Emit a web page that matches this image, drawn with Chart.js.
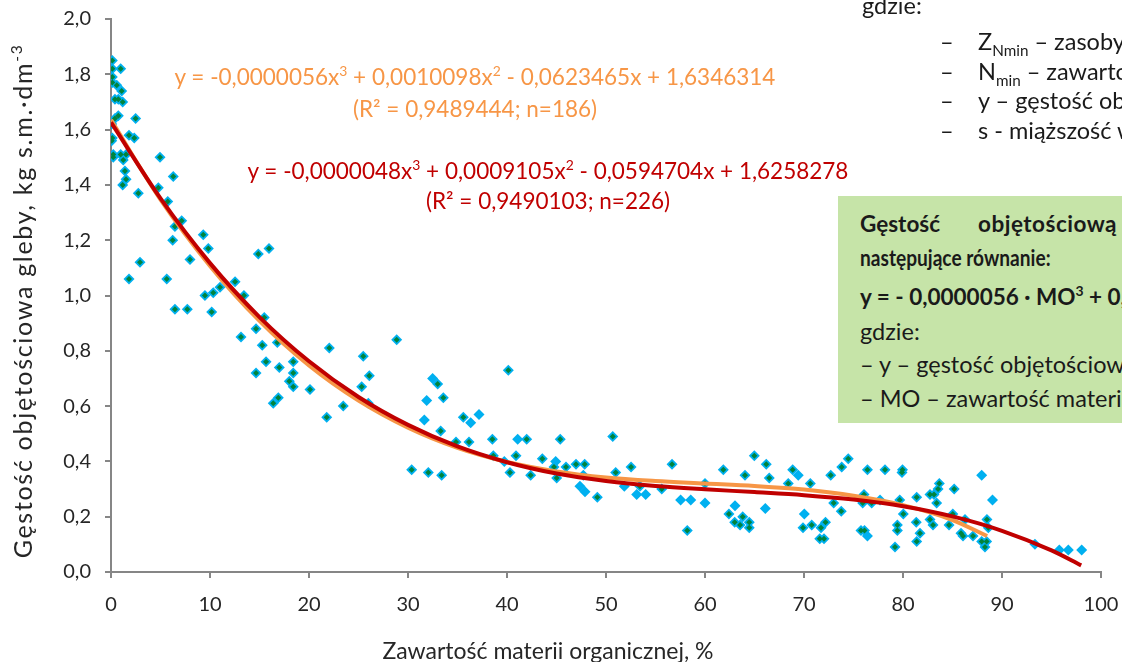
<!DOCTYPE html>
<html><head><meta charset="utf-8">
<script src="https://cdn.jsdelivr.net/npm/chart.js@4.4.1/dist/chart.umd.min.js"></script>
<style>
html,body{margin:0;padding:0;background:#fff;overflow:hidden}
#wrap{position:relative;width:1122px;height:662px;overflow:hidden;font-family:Lato,"Noto Sans",sans-serif;color:#1a1a1a}
canvas{position:absolute;left:0;top:0}
.ann{position:absolute;white-space:nowrap}
.eq{text-align:center;font-size:22.5px}
sup{font-size:0.62em;line-height:0;vertical-align:0.62em}
sub{font-size:0.65em;line-height:0;vertical-align:-0.4em}
#box{position:absolute;left:838px;top:196px;width:320px;height:227px;background:#C6E4A8}
#box div{position:absolute;white-space:nowrap;line-height:34px;font-weight:bold}
#box .n{font-size:23.5px;font-weight:normal}
.lst{font-size:23.5px;line-height:30px}
#xt{position:absolute;left:248px;top:636px;width:600px;text-align:center;font-size:23px;line-height:28px;color:#262626}
#yt{position:absolute;left:-278px;top:287px;width:600px;text-align:center;font-size:25px;line-height:28px;letter-spacing:1.7px;color:#262626;transform:rotate(-90deg);transform-origin:50% 50%}
</style></head><body>
<div id="wrap">
<canvas id="c" width="1122" height="662"></canvas>

<div class="ann eq" style="left:125px;top:61px;width:700px;line-height:32px;color:#F79646">y = -0,0000056x<sup>3</sup> + 0,0010098x<sup>2</sup> - 0,0623465x + 1,6346314<br>(R² = 0,9489444; n=186)</div>
<div class="ann eq" style="left:198px;top:156px;width:700px;line-height:30px;color:#C00000">y = -0,0000048x<sup>3</sup> + 0,0009105x<sup>2</sup> - 0,0594704x + 1,6258278<br>(R² = 0,9490103; n=226)</div>

<div id="xt">Zawartość materii organicznej, %</div>
<div id="yt">Gęstość objętościowa gleby, kg s.m.·dm<sup>-3</sup></div>

<div class="ann lst" style="left:862px;top:-10px">gdzie:</div>
<div class="ann lst" style="left:940px;top:26px">–</div><div class="ann lst" style="left:978px;top:26px">Z<sub>Nmin</sub> – zasoby azotu mineralnego</div>
<div class="ann lst" style="left:940px;top:56px">–</div><div class="ann lst" style="left:978px;top:56px">N<sub>min</sub> – zawartość azotu mineralnego</div>
<div class="ann lst" style="left:940px;top:85px">–</div><div class="ann lst" style="left:978px;top:85px">y – gęstość objętościowa gleby</div>
<div class="ann lst" style="left:940px;top:115px">–</div><div class="ann lst" style="left:978px;top:115px">s - miąższość warstwy</div>

<div id="box">
<div style="left:22px;top:11px;font-size:22.5px">Gęstość</div>
<div style="left:140px;top:11px;font-size:22.5px;letter-spacing:0.5px">objętościową</div>
<div style="left:22px;top:45px;font-size:22.5px;transform:scaleX(0.85);transform-origin:0 50%">następujące równanie:</div>
<div style="left:22px;top:84px;font-size:22.5px">y = - 0,0000056 · MO<sup>3</sup> + 0,0010098 · MO<sup>2</sup></div>
<div class="n" style="left:22px;top:118px">gdzie:</div>
<div class="n" style="left:22px;top:151px">– y – gęstość objętościowa gleby</div>
<div class="n" style="left:22px;top:185px">– MO – zawartość materii organicznej</div>
</div>
</div>
<script>
// points present in both series (n=186 green markers drawn on top of blue)
const greenX = [0.13,0.13,0.98,0.13,0.13,0.58,1.08,0.40,0.74,1.18,0.74,0.40,2.49,0.07,0.13,0.07,1.82,2.35,0.23,0.23,0.98,1.52,1.24,4.95,1.41,1.52,1.18,6.29,2.76,4.78,5.73,7.14,6.46,9.32,6.23,9.83,2.93,7.98,14.88,15.96,1.82,5.63,12.53,11.01,10.33,9.49,13.43,6.46,7.71,10.17,15.48,14.65,13.13,16.80,15.28,22.05,25.48,28.86,18.41,15.66,17.00,14.65,18.41,18.01,18.41,20.10,26.09,25.32,16.90,16.39,23.46,25.99,21.79,40.13,33.00,33.57,35.59,33.30,34.85,36.16,38.52,41.99,45.38,50.68,30.37,32.05,33.40,38.62,40.91,40.30,42.39,43.57,44.75,45.96,46.97,47.85,45.02,49.12,50.98,52.53,53.43,55.63,56.67,60.00,58.21,61.85,62.42,64.98,66.19,64.04,66.49,63.00,63.81,63.54,64.47,64.47,68.41,68.86,70.64,69.90,70.78,71.72,72.17,72.02,71.59,72.70,73.81,74.47,73.00,73.76,76.41,78.18,79.95,79.90,76.06,75.93,76.84,79.67,80.03,79.43,79.43,79.19,75.76,76.11,81.38,82.73,83.13,83.67,83.54,83.40,85.17,81.34,81.72,81.38,82.73,83.03,85.03,84.65,86.26,85.86,86.06,87.07,88.48,88.62,87.95,88.45,88.28];
const greenY = [1.85,1.82,1.82,1.79,1.77,1.76,1.74,1.71,1.71,1.70,1.65,1.64,1.64,1.62,1.57,1.56,1.58,1.57,1.51,1.50,1.51,1.51,1.49,1.50,1.45,1.42,1.40,1.43,1.37,1.39,1.34,1.27,1.25,1.22,1.20,1.17,1.12,1.13,1.15,1.17,1.06,1.06,1.05,1.03,1.01,1.00,1.00,0.95,0.95,0.94,0.92,0.88,0.85,0.83,0.82,0.81,0.78,0.84,0.76,0.76,0.74,0.72,0.72,0.69,0.67,0.66,0.71,0.67,0.63,0.61,0.60,0.61,0.56,0.73,0.68,0.63,0.56,0.51,0.47,0.47,0.48,0.48,0.48,0.49,0.37,0.36,0.35,0.42,0.42,0.36,0.35,0.41,0.38,0.38,0.39,0.39,0.34,0.27,0.36,0.38,0.31,0.30,0.39,0.32,0.15,0.37,0.21,0.42,0.39,0.35,0.34,0.18,0.20,0.17,0.18,0.16,0.32,0.37,0.32,0.16,0.17,0.16,0.18,0.12,0.12,0.35,0.38,0.41,0.25,0.22,0.37,0.37,0.37,0.36,0.28,0.25,0.25,0.26,0.21,0.17,0.15,0.09,0.15,0.15,0.27,0.28,0.28,0.32,0.30,0.25,0.30,0.18,0.14,0.11,0.19,0.17,0.21,0.17,0.19,0.14,0.13,0.13,0.19,0.16,0.11,0.11,0.09];
// points only in the larger series (n=226, blue markers)
const blueOnlyX = [32.49,31.89,31.65,36.33,37.17,41.08,39.73,44.92,47.71,47.37,47.88,51.85,53.10,54.01,57.54,58.56,60.00,63.03,66.09,69.42,70.03,77.68,76.41,87.95,89.04,93.33,95.79,96.70,98.05];
const blueOnlyY = [0.70,0.62,0.55,0.54,0.57,0.48,0.40,0.40,0.35,0.31,0.29,0.31,0.28,0.28,0.26,0.26,0.25,0.24,0.23,0.35,0.21,0.26,0.13,0.35,0.26,0.10,0.08,0.08,0.08];
// trend lines
const redX = [0,5,10,15,20,25,30,35,40,45,50,55,60,65,70,75,80,85,90,95,98];
const redY = [1.626,1.351,1.117,0.922,0.762,0.633,0.532,0.454,0.397,0.356,0.329,0.311,0.299,0.289,0.278,0.262,0.238,0.201,0.149,0.078,0.024];
const orangeX = [0,5,10,15,20,25,30,35,40,45,50,55,60,65,70,75,80,85,88.5];
const orangeY = [1.635,1.347,1.107,0.908,0.747,0.620,0.522,0.449,0.398,0.364,0.342,0.329,0.320,0.311,0.298,0.276,0.242,0.188,0.130];

const pts = (xs, ys) => xs.map((x, i) => ({x, y: ys[i]}));
const bluePts = pts(greenX, greenY).concat(pts(blueOnlyX, blueOnlyY));

const FONT = 'Lato, "Noto Sans", sans-serif';
new Chart(document.getElementById('c'), {
  type: 'scatter',
  data: {
    datasets: [
      {data: pts(redX, redY), showLine: true, borderColor: '#C00000', borderWidth: 4, pointRadius: 0, cubicInterpolationMode: 'monotone', order: 0},
      {data: pts(orangeX, orangeY), showLine: true, borderColor: '#F79646', borderWidth: 4, pointRadius: 0, cubicInterpolationMode: 'monotone', order: 1},
      {data: pts(greenX, greenY), pointStyle: 'rectRot', pointRadius: 3, backgroundColor: '#00843D', borderWidth: 0, order: 2},
      {data: bluePts, pointStyle: 'rectRot', pointRadius: 5.5, backgroundColor: '#00B0F0', borderWidth: 0, order: 3}
    ]
  },
  options: {
    responsive: false, animation: false,
    layout: {padding: {top: 19, right: 21, left: 0, bottom: 0}},
    plugins: {legend: {display: false}, tooltip: {enabled: false}},
    scales: {
      x: {
        type: 'linear', min: 0, max: 100,
        afterFit: s => { s.height = 90; s.paddingLeft = 0; s.paddingRight = 0; },
        ticks: {stepSize: 10, padding: 15, color: '#262626', font: {family: FONT, size: 20}},
        grid: {drawOnChartArea: false, drawTicks: true, tickLength: 6, color: '#868686', lineWidth: 2},
        border: {display: true, color: '#868686', width: 2},
        title: {display: false}
      },
      y: {
        min: 0, max: 2,
        afterFit: s => { s.width = 111; s.paddingTop = 0; s.paddingBottom = 0; },
        ticks: {stepSize: 0.2, padding: 14, color: '#262626', font: {family: FONT, size: 20},
                callback: v => v.toFixed(1).replace('.', ',')},
        grid: {drawOnChartArea: false, drawTicks: true, tickLength: 6, color: '#868686', lineWidth: 2},
        border: {display: true, color: '#868686', width: 2},
        title: {display: false}
      }
    }
  }
});
</script>
</body></html>
